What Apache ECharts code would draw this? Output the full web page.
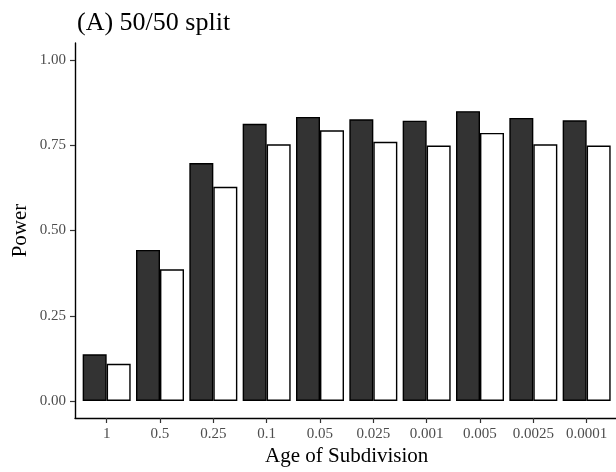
<!DOCTYPE html>
<html>
<head>
<meta charset="utf-8">
<script src="https://cdn.jsdelivr.net/npm/echarts@6/dist/echarts.min.js"></script>
<style>
  html, body { margin: 0; padding: 0; background: #fff; }
  #chart { width: 616px; height: 472px; }
</style>
</head>
<body>
<div id="chart"></div>
<script>
// Age-of-subdivision categories and power per method
const categories = ['1', '0.5', '0.25', '0.1', '0.05', '0.025', '0.001', '0.005', '0.0025', '0.0001'];
const powerDark  = [0.137, 0.443, 0.698, 0.813, 0.833, 0.826, 0.822, 0.850, 0.830, 0.823];
const powerLight = [0.109, 0.386, 0.628, 0.753, 0.794, 0.760, 0.749, 0.786, 0.753, 0.749];
const yTicks = [0, 0.25, 0.5, 0.75, 1];

const serif = 'Liberation Serif';
const chart = echarts.init(document.getElementById('chart'), null, { renderer: 'canvas' });

chart.setOption({
  backgroundColor: '#ffffff',
  animation: false,
  title: {
    text: '(A) 50/50 split',
    left: 72, top: 5,
    textStyle: { fontFamily: serif, fontSize: 26, fontWeight: 'normal', color: '#000' }
  },
  grid: [
    // panel frame (expanded range, axis lines only)
    { left: 75, top: 43, width: 560, height: 375, containLabel: false, outerBoundsMode: 'none' },
    // data area
    { left: 80, top: 60, width: 533.33, height: 341, containLabel: false, outerBoundsMode: 'none' }
  ],
  xAxis: [
    {
      gridIndex: 0, type: 'value', min: 0, max: 1,
      axisLine: { show: true, onZero: false, lineStyle: { color: '#000', width: 1.4 } },
      axisTick: { show: false }, axisLabel: { show: false }, splitLine: { show: false }
    },
    {
      gridIndex: 1, type: 'category', data: categories, offset: 17,
      axisLine: { show: false, onZero: false },
      axisTick: { show: true, alignWithLabel: true, interval: 0, length: 5, lineStyle: { color: '#333', width: 1.2 } },
      axisLabel: { interval: 0, margin: 9, fontFamily: serif, fontSize: 15, color: '#4d4d4d' },
      name: 'Age of Subdivision', nameLocation: 'middle', nameGap: 28, nameMoveOverlap: false,
      nameTextStyle: { fontFamily: serif, fontSize: 21, color: '#000' }
    }
  ],
  yAxis: [
    {
      gridIndex: 0, type: 'value', min: -0.05, max: 1.05,
      axisLine: { show: true, onZero: false, lineStyle: { color: '#000', width: 1.4 } },
      axisTick: { show: false }, axisLabel: { show: false }, splitLine: { show: false }
    },
    {
      gridIndex: 1, type: 'value', min: 0, max: 1, interval: 0.25, offset: 5,
      axisLine: { show: false, onZero: false },
      axisTick: { show: true, length: 5, lineStyle: { color: '#333', width: 1.2 } },
      axisLabel: {
        margin: 9, fontFamily: serif, fontSize: 15, color: '#4d4d4d',
        formatter: v => yTicks.some(t => Math.abs(t - v) < 1e-9) ? v.toFixed(2) : ''
      },
      splitLine: { show: false },
      name: 'Power', nameLocation: 'middle', nameGap: 44, nameMoveOverlap: false,
      nameTextStyle: { fontFamily: serif, fontSize: 21, color: '#000' }
    }
  ],
  series: [
    {
      type: 'bar', xAxisIndex: 1, yAxisIndex: 1, data: powerDark,
      barWidth: '45%', barGap: '0%',
      itemStyle: { color: '#333333', borderColor: '#000', borderWidth: 1.4 }
    },
    {
      type: 'bar', xAxisIndex: 1, yAxisIndex: 1, data: powerLight,
      barWidth: '45%', barGap: '0%',
      itemStyle: { color: '#ffffff', borderColor: '#000', borderWidth: 1.4 }
    }
  ]
});
</script>
</body>
</html>
